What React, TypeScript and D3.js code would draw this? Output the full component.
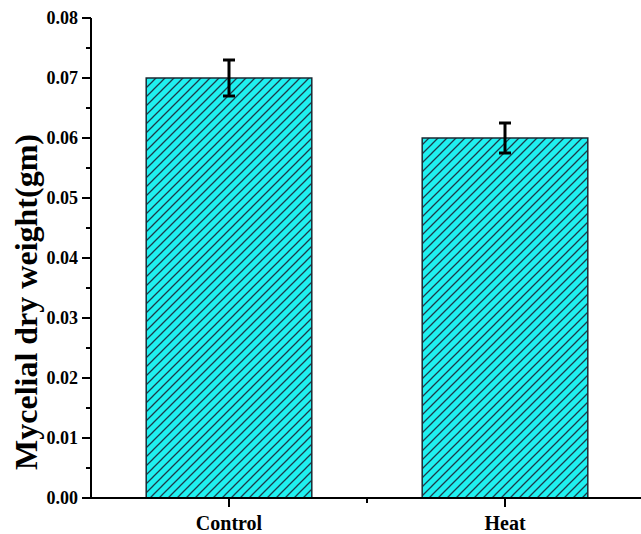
import React from 'react';
import * as d3 from 'd3';

const categories = ['Control', 'Heat'];
const values = [0.07, 0.06];
const errors = [0.003, 0.0025];
const yTicks = [0, 0.01, 0.02, 0.03, 0.04, 0.05, 0.06, 0.07, 0.08];
const yMinorTicks = [0.005, 0.015, 0.025, 0.035, 0.045, 0.055, 0.065, 0.075];

export default function App() {
  const width = 641;
  const height = 534;
  const left = 91;
  const bottom = 498;
  const top = 18;

  const y = d3.scaleLinear().domain([0, 0.08]).range([bottom, top]);
  const x = d3.scaleBand<string>()
    .domain(categories)
    .range([left, 643])
    .paddingInner(0.4)
    .paddingOuter(0.2);

  const font = '"Liberation Serif", "Times New Roman", serif';
  const fillColor = '#1ff0f0';
  const hatchColor = '#1d3b4a';

  return (
    <div style={{ position: 'fixed', left: 0, top: 0 }}>
      <svg width={width} height={height} style={{ display: 'block', background: '#fff' }}>
        <defs>
          <pattern id="hatch" patternUnits="userSpaceOnUse" width={9} height={9}>
            <rect width={9} height={9} fill={fillColor} />
            <path d="M-1,1 l2,-2 M0,9 l9,-9 M8,10 l2,-2" stroke={hatchColor} strokeWidth={1.3} />
          </pattern>
        </defs>

        {categories.map((c, i) => {
          const bx = x(c)!;
          const bw = x.bandwidth();
          const cx = bx + bw / 2;
          return (
            <g key={c}>
              <rect x={bx} y={y(values[i])} width={bw} height={bottom - y(values[i])}
                fill="url(#hatch)" stroke="#1a2a33" strokeWidth={1.5} />
              <line x1={cx} x2={cx} y1={y(values[i] + errors[i])} y2={y(values[i] - errors[i])}
                stroke="#000" strokeWidth={3} />
              <line x1={cx - 6} x2={cx + 6} y1={y(values[i] + errors[i])} y2={y(values[i] + errors[i])}
                stroke="#000" strokeWidth={3} />
              <line x1={cx - 6} x2={cx + 6} y1={y(values[i] - errors[i])} y2={y(values[i] - errors[i])}
                stroke="#000" strokeWidth={3} />
            </g>
          );
        })}

        {/* y axis */}
        <line x1={left} x2={left} y1={top} y2={bottom + 1} stroke="#000" strokeWidth={2} />
        {yTicks.map(t => (
          <g key={t}>
            <line x1={left - 9} x2={left} y1={y(t)} y2={y(t)} stroke="#000" strokeWidth={2} />
            <text x={left - 13} y={y(t)} dy="0.35em" textAnchor="end" fontFamily={font}
              fontWeight="bold" fontSize={18}>{d3.format('.2f')(t)}</text>
          </g>
        ))}
        {yMinorTicks.map(t => (
          <line key={t} x1={left - 5} x2={left} y1={y(t)} y2={y(t)} stroke="#000" strokeWidth={2} />
        ))}

        {/* x axis */}
        <line x1={left - 1} x2={width} y1={bottom} y2={bottom} stroke="#000" strokeWidth={2} />
        {categories.map(c => {
          const cx = x(c)! + x.bandwidth() / 2;
          return (
            <g key={c}>
              <line x1={cx} x2={cx} y1={bottom} y2={bottom + 9} stroke="#000" strokeWidth={2} />
              <text x={cx} y={530} textAnchor="middle" fontFamily={font} fontWeight="bold"
                fontSize={20}>{c}</text>
            </g>
          );
        })}
        <line x1={(x(categories[0])! + x(categories[1])! + x.bandwidth()) / 2}
          x2={(x(categories[0])! + x(categories[1])! + x.bandwidth()) / 2}
          y1={bottom} y2={bottom + 5} stroke="#000" strokeWidth={2} />

        <text transform="translate(37,302) rotate(-90)" textAnchor="middle"
          fontFamily={font} fontWeight="bold" fontSize={32}>Mycelial dry weight(gm)</text>
      </svg>
    </div>
  );
}
